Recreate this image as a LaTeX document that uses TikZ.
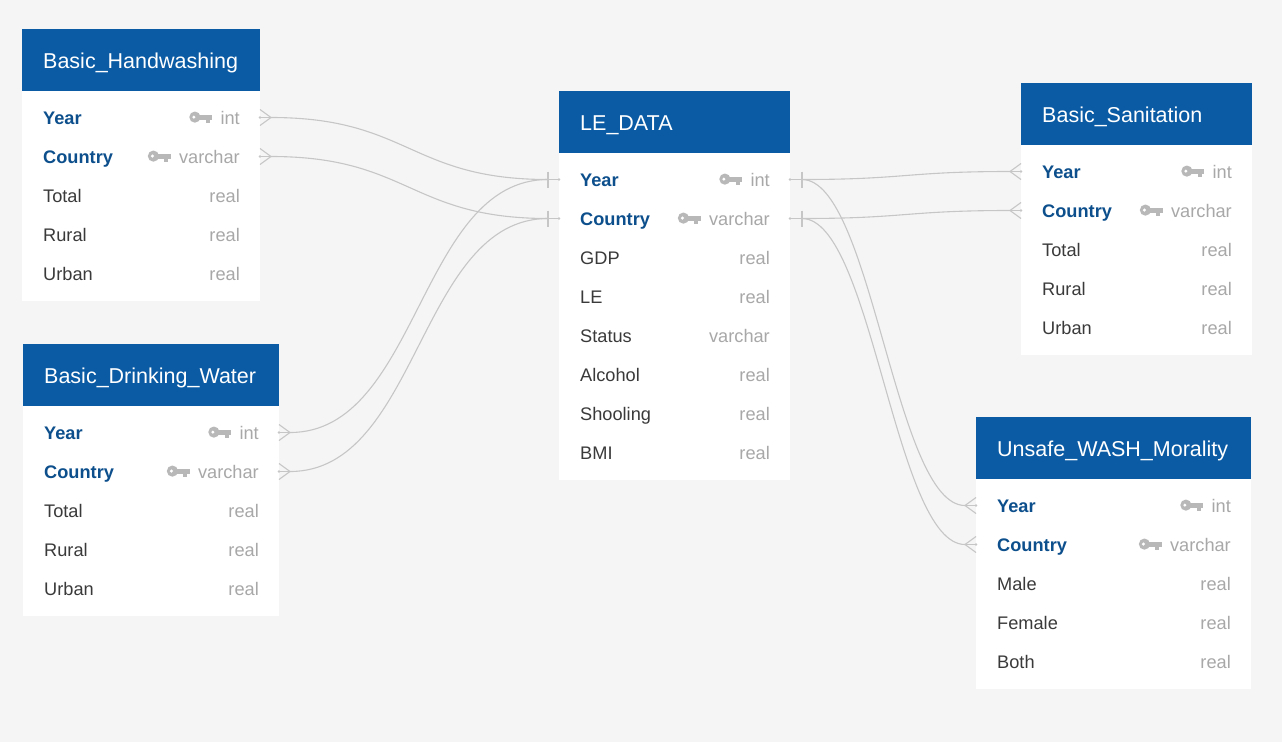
\documentclass[tikz,border=0pt]{standalone}
\usepackage{fontspec}
\setmainfont{Liberation Sans}
\usetikzlibrary{calc}
\definecolor{bg}{HTML}{F5F5F5}
\definecolor{hdr}{HTML}{0A5BA4}
\definecolor{keyc}{HTML}{0C4F8C}
\definecolor{fld}{HTML}{3A3A3A}
\definecolor{typ}{HTML}{A8A8A8}
\definecolor{icon}{HTML}{B8B8B8}
\definecolor{ln}{HTML}{C6C6C6}
\tikzset{
  hdrbox/.style={fill=hdr, draw=none, minimum height=62pt, anchor=north west, inner sep=0pt, outer sep=0pt},
  bodybox/.style={fill=white, draw=none, anchor=north west, inner sep=0pt, outer sep=0pt},
  rowbox/.style={draw=none, minimum height=39pt, inner sep=0pt, outer sep=0pt, anchor=west},
  ttl/.style={text=white, font=\fontsize{21.5}{25}\selectfont, anchor=base west, inner sep=0pt},
  keyf/.style={text=keyc, font=\fontsize{18.2}{22}\selectfont\bfseries, anchor=base west, inner sep=0pt},
  plainf/.style={text=fld, font=\fontsize{18.2}{22}\selectfont, anchor=base west, inner sep=0pt},
  typef/.style={text=typ, font=\fontsize{18.2}{22}\selectfont, anchor=base east, inner sep=0pt},
  conn/.style={draw=ln, line width=1.1pt},
  keyicon/.pic={
    \fill[icon] (-17.5,0) circle (5.6);
    \fill[white] (-18.5,0) circle (1.7);
    \fill[icon] (-14,-2.6) rectangle (0,2.4);
    \fill[icon] (-6.5,2) rectangle (-2.5,5.5);
  }
}
% #1 id, #2 x, #3 ytop, #4 width, #5 body height, #6 title
\newcommand{\ertable}[6]{%
  \node[hdrbox, minimum width=#4pt] (#1) at (#2,#3) {};
  \node[bodybox, minimum width=#4pt, minimum height=#5pt] (#1-body) at (#2,#3+62) {};
  \node[ttl] (#1-title) at ($(#1.west)+(21,8.2)$) {#6};
}
% #1 id, #2 x, #3 y centre, #4 width, #5 field, #6 type
\newcommand{\krow}[6]{%
  \node[rowbox, minimum width=#4pt] (#1) at (#2,#3) {};
  \node[keyf] (#1-f) at ($(#1.west)+(21,7.2)$) {#5};
  \node[typef] (#1-t) at ($(#1.east)+(-20,7.2)$) {#6};
  \pic at ($(#1-t.base west)+(-8,-7.6)$) {keyicon};
}
\newcommand{\prow}[6]{%
  \node[rowbox, minimum width=#4pt] (#1) at (#2,#3) {};
  \node[plainf] (#1-f) at ($(#1.west)+(21,7.2)$) {#5};
  \node[typef] (#1-t) at ($(#1.east)+(-20,7.2)$) {#6};
}
\newcommand{\crowE}[1]{%
  \draw[conn] ($(#1.east)+(0,-8)$) -- ($(#1.east)+(11,0)$) -- ($(#1.east)+(0,8)$);
  \draw[conn] (#1.east) -- ++(11,0);
  \fill[ln] (#1.east) circle (1.4);
}
\newcommand{\crowW}[1]{%
  \draw[conn] ($(#1.west)+(0,-8)$) -- ($(#1.west)+(-11,0)$) -- ($(#1.west)+(0,8)$);
  \draw[conn] (#1.west) -- ++(-11,0);
  \fill[ln] (#1.west) circle (1.4);
}
\newcommand{\barW}[1]{%
  \draw[conn] ($(#1.west)+(-11,-8)$) -- ($(#1.west)+(-11,8)$);
  \draw[conn] (#1.west) -- ++(-11,0);
  \fill[ln] (#1.west) circle (1.4);
}
\newcommand{\barE}[1]{%
  \draw[conn] ($(#1.east)+(12,-8)$) -- ($(#1.east)+(12,8)$);
  \draw[conn] (#1.east) -- ++(12,0);
  \fill[ln] (#1.east) circle (1.4);
}
\begin{document}
\begin{tikzpicture}[x=1pt,y=-1pt]
\fill[bg] (0,0) rectangle (1282,742);
\useasboundingbox (0,0) rectangle (1282,742);

% Basic_Handwashing
\ertable{hw}{22}{29}{238}{210}{Basic\_Handwashing}
\krow{hw1}{22}{117.5}{238}{Year}{int}
\krow{hw2}{22}{156.5}{238}{Country}{varchar}
\prow{hw3}{22}{195.5}{238}{Total}{real}
\prow{hw4}{22}{234.5}{238}{Rural}{real}
\prow{hw5}{22}{273.5}{238}{Urban}{real}

% Basic_Drinking_Water
\ertable{dw}{23}{344}{256}{210}{Basic\_Drinking\_Water}
\krow{dw1}{23}{432.5}{256}{Year}{int}
\krow{dw2}{23}{471.5}{256}{Country}{varchar}
\prow{dw3}{23}{510.5}{256}{Total}{real}
\prow{dw4}{23}{549.5}{256}{Rural}{real}
\prow{dw5}{23}{588.5}{256}{Urban}{real}

% LE_DATA
\ertable{le}{559}{91}{231}{327}{LE\_DATA}
\krow{le1}{559}{179.5}{231}{Year}{int}
\krow{le2}{559}{218.5}{231}{Country}{varchar}
\prow{le3}{559}{257.5}{231}{GDP}{real}
\prow{le4}{559}{296.5}{231}{LE}{real}
\prow{le5}{559}{335.5}{231}{Status}{varchar}
\prow{le6}{559}{374.5}{231}{Alcohol}{real}
\prow{le7}{559}{413.5}{231}{Shooling}{real}
\prow{le8}{559}{452.5}{231}{BMI}{real}

% Basic_Sanitation
\ertable{sa}{1021}{83}{231}{210}{Basic\_Sanitation}
\krow{sa1}{1021}{171.5}{231}{Year}{int}
\krow{sa2}{1021}{210.5}{231}{Country}{varchar}
\prow{sa3}{1021}{249.5}{231}{Total}{real}
\prow{sa4}{1021}{288.5}{231}{Rural}{real}
\prow{sa5}{1021}{327.5}{231}{Urban}{real}

% Unsafe_WASH_Morality
\ertable{uw}{976}{417}{275}{210}{Unsafe\_WASH\_Morality}
\krow{uw1}{976}{505.5}{275}{Year}{int}
\krow{uw2}{976}{544.5}{275}{Country}{varchar}
\prow{uw3}{976}{583.5}{275}{Male}{real}
\prow{uw4}{976}{622.5}{275}{Female}{real}
\prow{uw5}{976}{661.5}{275}{Both}{real}

% connector ends
\crowE{hw1} \crowE{hw2} \crowE{dw1} \crowE{dw2}
\barW{le1} \barW{le2} \barE{le1} \barE{le2}
\crowW{sa1} \crowW{sa2} \crowW{uw1} \crowW{uw2}

% left connectors
\draw[conn] ($(hw1.east)+(11,0)$) .. controls +(138,0) and +(-138,0) .. ($(le1.west)+(-11,0)$);
\draw[conn] ($(hw2.east)+(11,0)$) .. controls +(138,0) and +(-138,0) .. ($(le2.west)+(-11,0)$);
\draw[conn] ($(dw1.east)+(11,0)$) .. controls +(129,0) and +(-129,0) .. ($(le1.west)+(-11,0)$);
\draw[conn] ($(dw2.east)+(11,0)$) .. controls +(129,0) and +(-129,0) .. ($(le2.west)+(-11,0)$);

% right connectors
\draw[conn] ($(le1.east)+(12,0)$) .. controls +(104,0) and +(-104,0) .. ($(sa1.west)+(-11,0)$);
\draw[conn] ($(le2.east)+(12,0)$) .. controls +(104,0) and +(-104,0) .. ($(sa2.west)+(-11,0)$);
\draw[conn] ($(le1.east)+(12,0)$) .. controls +(70,0) and +(-70,0) .. ($(uw1.west)+(-11,0)$);
\draw[conn] ($(le2.east)+(12,0)$) .. controls +(70,0) and +(-70,0) .. ($(uw2.west)+(-11,0)$);
\end{tikzpicture}
\end{document}
